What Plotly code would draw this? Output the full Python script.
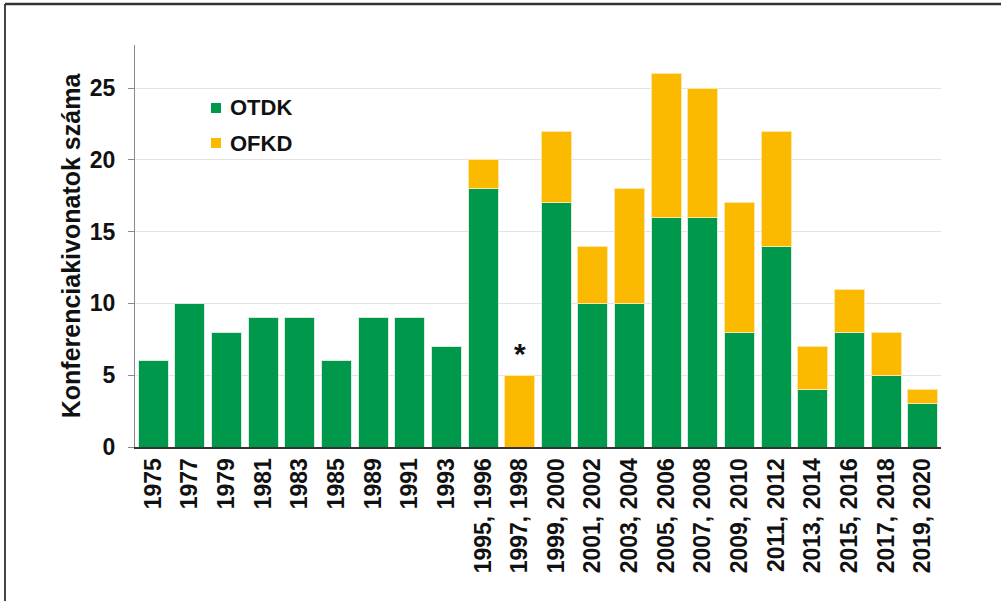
import plotly.graph_objects as go

categories = ["1975", "1977", "1979", "1981", "1983", "1985", "1989", "1991", "1993",
              "1995, 1996", "1997, 1998", "1999, 2000", "2001, 2002", "2003, 2004",
              "2005, 2006", "2007, 2008", "2009, 2010", "2011, 2012", "2013, 2014",
              "2015, 2016", "2017, 2018", "2019, 2020"]
otdk = [6, 10, 8, 9, 9, 6, 9, 9, 7, 18, 0, 17, 10, 10, 16, 16, 8, 14, 4, 8, 5, 3]
ofkd = [0, 0, 0, 0, 0, 0, 0, 0, 0, 2, 5, 5, 4, 8, 10, 9, 9, 8, 3, 3, 3, 1]
series_names = ["OTDK", "OFKD"]
y_ticks = [0, 5, 10, 15, 20, 25]

GREEN = "#00984A"
YELLOW = "#FBBA00"
FONT = "Liberation Sans, Arial, sans-serif"


def nz(vals):
    return [v if v else None for v in vals]


fig = go.Figure()
fig.add_trace(go.Bar(x=categories, y=nz(otdk), name=series_names[0], marker_color=GREEN,
                     marker_line=dict(color="#d8eadf", width=1)))
fig.add_trace(go.Bar(x=categories, y=nz(ofkd), name=series_names[1], marker_color=YELLOW,
                     marker_line=dict(color="#fbe6a8", width=1)))

fig.add_annotation(x="1997, 1998", y=5, text="<b>*</b>", showarrow=False,
                   yanchor="bottom", yshift=3, font=dict(size=30, color="#111", family=FONT))

# manual legend
legend_rows = [(0.8433, GREEN), (0.7562, YELLOW)]
for name, (yc, col) in zip(series_names, legend_rows):
    fig.add_shape(type="rect", xref="paper", yref="paper", x0=0.0943, x1=0.1067,
                  y0=yc - 0.0124, y1=yc + 0.0124, fillcolor=col, line=dict(width=0))
    fig.add_annotation(xref="paper", yref="paper", x=0.1154, y=yc, text=f"<b>{name}</b>",
                       showarrow=False, xanchor="left", yanchor="middle",
                       font=dict(size=22, family=FONT, color="#111"))

# outer frame (left and top)
fig.add_shape(type="line", xref="paper", yref="paper", x0=-0.1613, x1=-0.1613, y0=1.102, y1=-0.45,
              line=dict(color="#444", width=2))
fig.add_shape(type="line", xref="paper", yref="paper", x0=-0.1613, x1=1.1, y0=1.102, y1=1.102,
              line=dict(color="#333", width=2.5))

fig.update_layout(
    width=1001, height=601,
    margin=dict(l=135, r=60, t=45, b=154),
    barmode="stack", bargap=0.18,
    plot_bgcolor="white", paper_bgcolor="white",
    font=dict(family=FONT, color="#111"),
    showlegend=False,
    xaxis=dict(tickangle=-90, tickfont=dict(size=23, family=FONT, weight="bold", color="#111"),
               showline=True, linecolor="#333", linewidth=2, ticks="", showgrid=False),
    yaxis=dict(range=[0, 28], tickvals=y_ticks, showgrid=True, gridcolor="#e3e3e3", gridwidth=1,
               tickfont=dict(size=23, family=FONT, weight="bold", color="#111"),
               showline=True, linecolor="#888", linewidth=1, ticks="outside", ticklen=6,
               tickcolor="#888", zeroline=False, ticklabelstandoff=8,
               title=dict(text="Konferenciakivonatok száma",
                          font=dict(size=25, family=FONT, weight="bold", color="#111"),
                          standoff=2)),
)

fig.write_html("out.html", config={"displayModeBar": False},
               post_script="document.body.style.margin='0px';document.body.style.overflow='hidden';")
